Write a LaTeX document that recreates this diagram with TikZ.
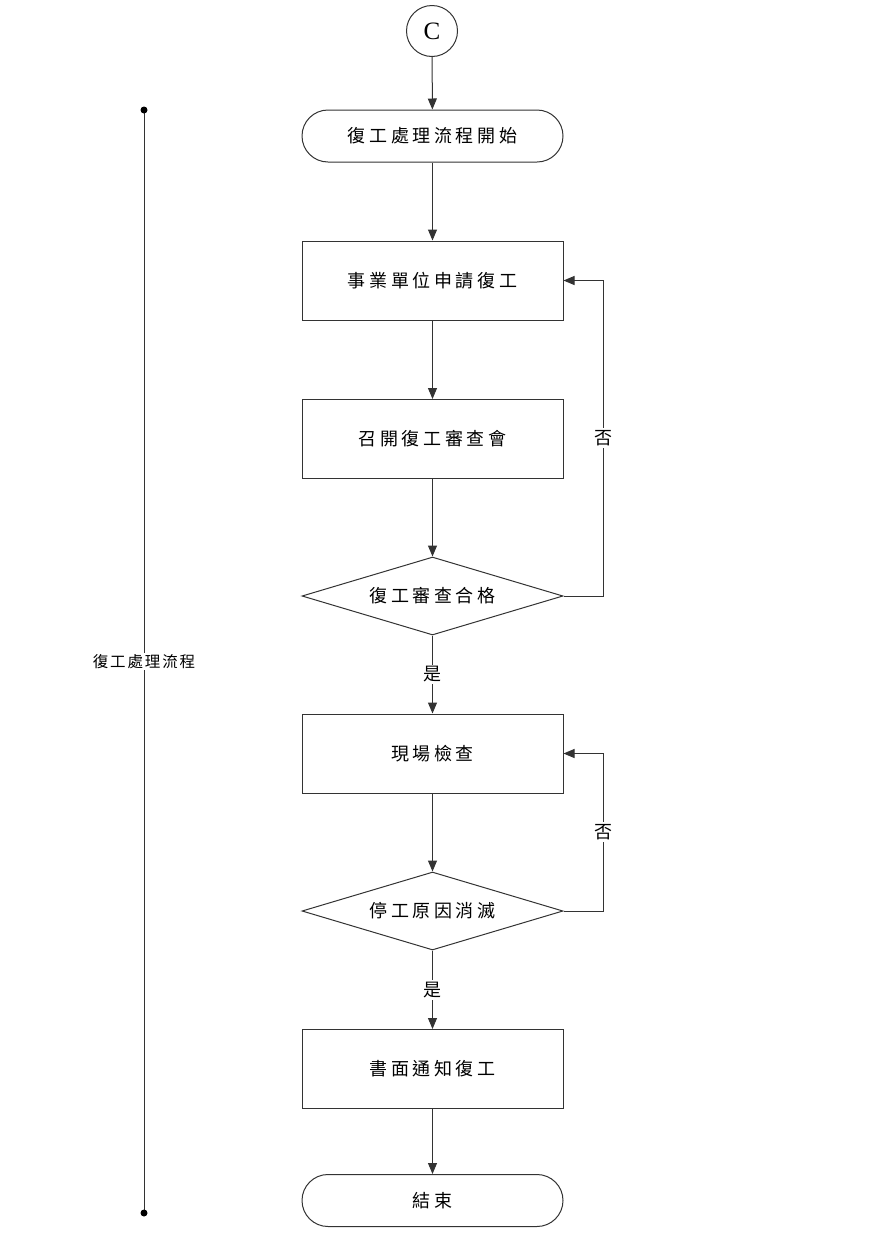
\documentclass[tikz,border=0pt]{standalone}
\usepackage{fontspec}
\setmainfont{Liberation Serif}
\newfontfamily\cjk[LetterSpace=20]{Noto Sans CJK TC}
\newfontfamily\cjksmall[LetterSpace=12]{Noto Sans CJK TC}
\usetikzlibrary{arrows.meta,shapes.geometric}
\tikzset{
  ln/.style={draw=black!80, line width=1pt},
  arr/.style={ln, -{Triangle[length=11pt,width=9pt]}},
  term/.style={ln, rectangle, rounded corners=26pt, minimum width=261pt, minimum height=52pt, inner sep=0pt, font=\cjk\fontsize{18pt}{21pt}\selectfont},
  proc/.style={ln, rectangle, minimum width=261pt, minimum height=79pt, inner sep=0pt, font=\cjk\fontsize{18pt}{21pt}\selectfont},
  dec/.style={ln, diamond, aspect=3.35, minimum width=261pt, minimum height=78pt, inner sep=0pt, font=\cjk\fontsize{18pt}{21pt}\selectfont},
  lab/.style={fill=white, inner sep=2pt, font=\cjk\fontsize{18pt}{21pt}\selectfont},
  conn/.style={ln, circle, minimum size=51pt, inner sep=0pt, font=\fontsize{25pt}{28pt}\selectfont},
}
\begin{document}
\begin{tikzpicture}[x=1pt,y=-1pt]
\useasboundingbox (0,0) rectangle (875,1248);
\node[conn] (c) at (432,31) {C};
\node[term] (start) at (432.5,136) {復工處理流程開始};
\node[proc] (b1) at (432.5,280.5) {事業單位申請復工};
\node[proc] (b2) at (432.5,439) {召開復工審查會};
\node[dec] (d1) at (432.5,596) {復工審查合格};
\node[proc] (b3) at (432.5,753.5) {現場檢查};
\node[dec] (d2) at (432.5,911) {停工原因消滅};
\node[proc] (b4) at (432.5,1069) {書面通知復工};
\node[term] (end) at (432.5,1200.5) {結束};

\draw[arr] (c) -- (start);
\draw[arr] (start) -- (b1);
\draw[arr] (b1) -- (b2);
\draw[arr] (b2) -- (d1);
\draw[arr] (d1) -- node[lab] {是} (b3);
\draw[arr] (b3) -- (d2);
\draw[arr] (d2) -- node[lab] {是} (b4);
\draw[arr] (b4) -- (end);
\draw[arr] (d1.east) -- ++(40,0) |- node[pos=0.25, lab] {否} (b1.east);
\draw[arr] (d2.east) -- ++(40,0) |- node[pos=0.25, lab] {否} (b3.east);

\coordinate (st) at (144,110);
\coordinate (sb) at (144,1213);
\draw[ln] (st) -- node[pos=0.5, fill=white, inner sep=1pt, font=\cjksmall\fontsize{15.5pt}{18pt}\selectfont] {復工處理流程} (sb);
\fill (st) circle (3.5pt);
\fill (sb) circle (3.5pt);
\end{tikzpicture}
\end{document}
